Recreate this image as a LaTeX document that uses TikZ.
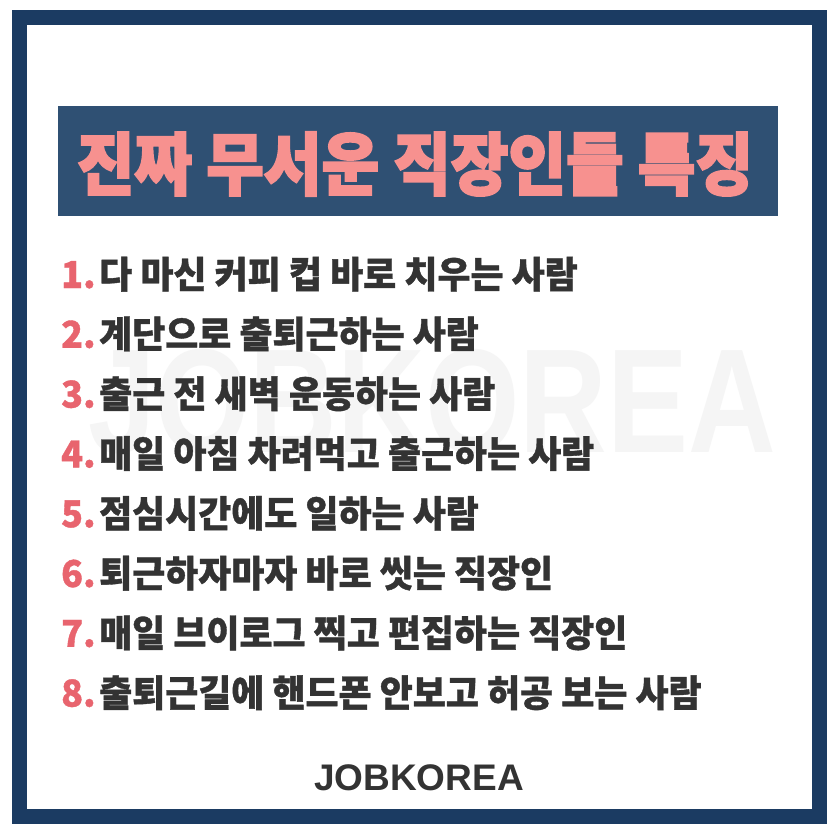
\documentclass[tikz,border=0pt]{standalone}
\usepackage{fontspec}
\usepackage{tikz}
\setmainfont{Liberation Sans}
\newfontfamily\krfont{Noto Sans CJK KR}[FakeBold=1]
\newfontfamily\titlefont{Noto Sans CJK KR}[FakeBold=3]
\definecolor{framenavy}{HTML}{1B3B62}
\definecolor{bannernavy}{HTML}{2F5073}
\definecolor{titlepink}{HTML}{F7918F}
\definecolor{numpink}{HTML}{E8646E}
\definecolor{textgray}{HTML}{333333}

\begin{document}
\begin{tikzpicture}
    [
      x=1pt, y=-1pt,
      item/.style={anchor=base west, inner sep=0pt, text=textgray, xscale=0.97,
        font=\krfont\bfseries\fontsize{37}{39}\selectfont},
      brand/.style={anchor=base, inner sep=0pt}
    ]
    \useasboundingbox (0,0) rectangle (827,824);
    \fill[white] (0,0) rectangle (827,824);
    % frame
    \fill[framenavy] (12,10) rectangle (827,824);
    \fill[white] (27,25) rectangle (812,809);
    % watermark
    \node [brand, text=black!4, xscale=0.82,
      font=\bfseries\fontsize{148}{150}\selectfont] (wm) at (432,452) {JOBKOREA};
    % title banner
    \fill[bannernavy] (58,106) rectangle (778,216);
    \node [inner sep=0pt, text=titlepink, xscale=0.92,
      font=\titlefont\bfseries\fontsize{68}{70}\selectfont] (title) at (415,164)
      {진짜 무서운 직장인들 특징};
    % list
    \foreach \n/\txt in {1/다 마신 커피 컵 바로 치우는 사람,
                         2/계단으로 출퇴근하는 사람,
                         3/출근 전 새벽 운동하는 사람,
                         4/매일 아침 차려먹고 출근하는 사람,
                         5/점심시간에도 일하는 사람,
                         6/퇴근하자마자 바로 씻는 직장인,
                         7/매일 브이로그 찍고 편집하는 직장인,
                         8/출퇴근길에 핸드폰 안보고 허공 보는 사람} {
        \node [item] (item\n) at (61,{288+59.8*(\n-1)})
          {{\color{numpink}\n.}\hspace{0.1em}\txt};
    }
    % logo
    \node [brand, text=textgray,
      font=\bfseries\fontsize{37}{40}\selectfont] (logo) at (419,790) {JOBKOREA};
\end{tikzpicture}
\end{document}
